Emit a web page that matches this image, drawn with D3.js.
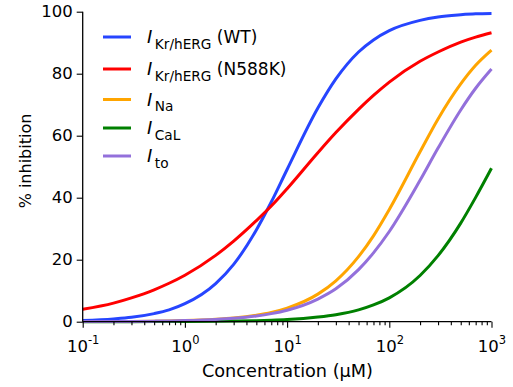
<!DOCTYPE html>
<html>
<head>
<meta charset="utf-8">
<script src="https://cdn.jsdelivr.net/npm/d3@7"></script>
<style>
  body { margin: 0; background: #fff; }
  svg { font-family: "DejaVu Sans", sans-serif; }
</style>
</head>
<body>
<div id="chart"></div>
<script>
// concentrations (µM) the curves were read at
const conc = [0.1, 0.2, 0.3, 0.5, 0.7, 1, 2, 3, 5, 7, 10, 20, 30, 50, 70,
              100, 200, 300, 500, 700, 1000];

// % inhibition
const krWT    = [0.4, 0.9, 1.4, 2.6, 3.8, 5.8, 12.3, 18.5, 29.6, 38.6, 49.1, 68.9, 78.3, 87.0, 90.9,
                 93.9, 97.2, 98.3, 99.0, 99.3, 99.4];
const krN588K = [4.0, 6.0, 7.7, 10.3, 12.4, 15.0, 21.4, 26.0, 32.6, 37.3, 42.9, 54.5, 61.0, 68.5, 73.0,
                 77.3, 84.0, 87.0, 90.2, 91.8, 93.2];
const iNa     = [0.03, 0.06, 0.1, 0.17, 0.25, 0.36, 0.78, 1.2, 2.1, 3.0, 4.4, 8.9, 13.2, 21.0, 27.7,
                 36.2, 54.8, 65.4, 76.7, 82.7, 87.6];
const iCaL    = [0.005, 0.01, 0.017, 0.03, 0.04, 0.06, 0.13, 0.2, 0.34, 0.48, 0.7, 1.5, 2.25, 3.8, 5.4,
                 7.7, 14.9, 21.3, 31.8, 40.1, 49.5];
const iTo     = [0.03, 0.07, 0.1, 0.18, 0.25, 0.36, 0.73, 1.1, 1.85, 2.6, 3.7, 7.3, 10.6, 16.8, 22.2,
                 29.1, 45.6, 56.0, 68.3, 75.3, 81.5];

const seriesNames = [["Kr/hERG", " (WT)"], ["Kr/hERG", " (N588K)"], ["Na", ""], ["CaL", ""], ["to", ""]];
const seriesColors = ["#2645ff", "#ff0000", "#ffa500", "#008000", "#9370db"];
const seriesValues = [krWT, krN588K, iNa, iCaL, iTo];

const yTicks = [0, 20, 40, 60, 80, 100];
const xMajor = [0.1, 1, 10, 100, 1000];
const xExp = ["-1", "0", "1", "2", "3"];

const width = 513, height = 387;
const svg = d3.select("#chart").append("svg")
  .attr("width", width)
  .attr("height", height);

const x = d3.scaleLog().domain([0.1, 1000]).range([82.7, 491.5]);
const y = d3.scaleLinear().domain([0, 100]).range([321.7, 11.7]);

// curves
const line = d3.line()
  .x(d => x(d[0]))
  .y(d => y(d[1]))
  .curve(d3.curveMonotoneX);

svg.append("g")
  .selectAll("path")
  .data(seriesValues)
  .join("path")
  .attr("d", vals => line(conc.map((c, i) => [c, vals[i]])))
  .attr("fill", "none")
  .attr("stroke", (d, i) => seriesColors[i])
  .attr("stroke-width", 3);

// y axis
const yAxis = svg.append("g")
  .attr("transform", `translate(${x.range()[0]},0)`)
  .call(d3.axisLeft(y).tickValues(yTicks).tickSize(6).tickPadding(4));

// x axis, major + minor ticks
const xTicks = x.ticks();
const xAxis = svg.append("g")
  .attr("transform", `translate(0,${y.range()[0]})`)
  .call(d3.axisBottom(x).tickValues(xTicks).tickSize(6).tickFormat(() => ""));

xAxis.selectAll(".tick line")
  .attr("y2", d => xMajor.includes(d) ? 6 : 3.5);

xAxis.selectAll(".tick")
  .filter(d => xMajor.includes(d))
  .select("text")
  .attr("y", 0)
  .attr("dy", 0)
  .attr("transform", "translate(0,30)")
  .each(function(d) {
    const t = d3.select(this);
    t.append("tspan").text("10");
    t.append("tspan").attr("font-size", 11.5).attr("dy", -8).text(xExp[xMajor.indexOf(d)]);
  });

[yAxis, xAxis].forEach(g => {
  g.select(".domain").attr("stroke", "#000").attr("stroke-width", 1.3);
  g.selectAll(".tick line").attr("stroke", "#000").attr("stroke-width", 1.1);
  g.selectAll(".tick text").attr("font-size", 16.5).attr("fill", "#000")
    .attr("font-family", "DejaVu Sans, sans-serif");
});
// no outer ticks on the spines
yAxis.select(".domain").attr("d", `M0,${y.range()[0]}V${y.range()[1]}`);
xAxis.select(".domain").attr("d", `M${x.range()[0]},0H${x.range()[1]}`);

// axis labels
svg.append("text")
  .attr("x", 287.5)
  .attr("y", 377)
  .attr("text-anchor", "middle")
  .attr("font-size", 17.7)
  .text("Concentration (μM)");

svg.append("text")
  .attr("transform", "translate(31,161) rotate(-90)")
  .attr("text-anchor", "middle")
  .attr("font-size", 16)
  .text("% inhibition");

// legend
const rowY = [37, 69, 99.5, 128, 156];
const legend = svg.append("g");
seriesNames.forEach((name, i) => {
  const g = legend.append("g").attr("transform", `translate(0,${rowY[i]})`);
  g.append("line")
    .attr("x1", 103).attr("x2", 131)
    .attr("stroke", seriesColors[i])
    .attr("stroke-width", 3);
  const t = g.append("text").attr("x", 147).attr("y", 6).attr("font-size", 18);
  t.append("tspan").attr("font-style", "italic").text("I");
  t.append("tspan").attr("font-size", 13.7).attr("dx", 2.5).attr("dy", 5.5).text(name[0]);
  if (name[1]) t.append("tspan").attr("dy", -5.5).attr("font-size", 17).text(name[1]);
});
</script>
</body>
</html>
